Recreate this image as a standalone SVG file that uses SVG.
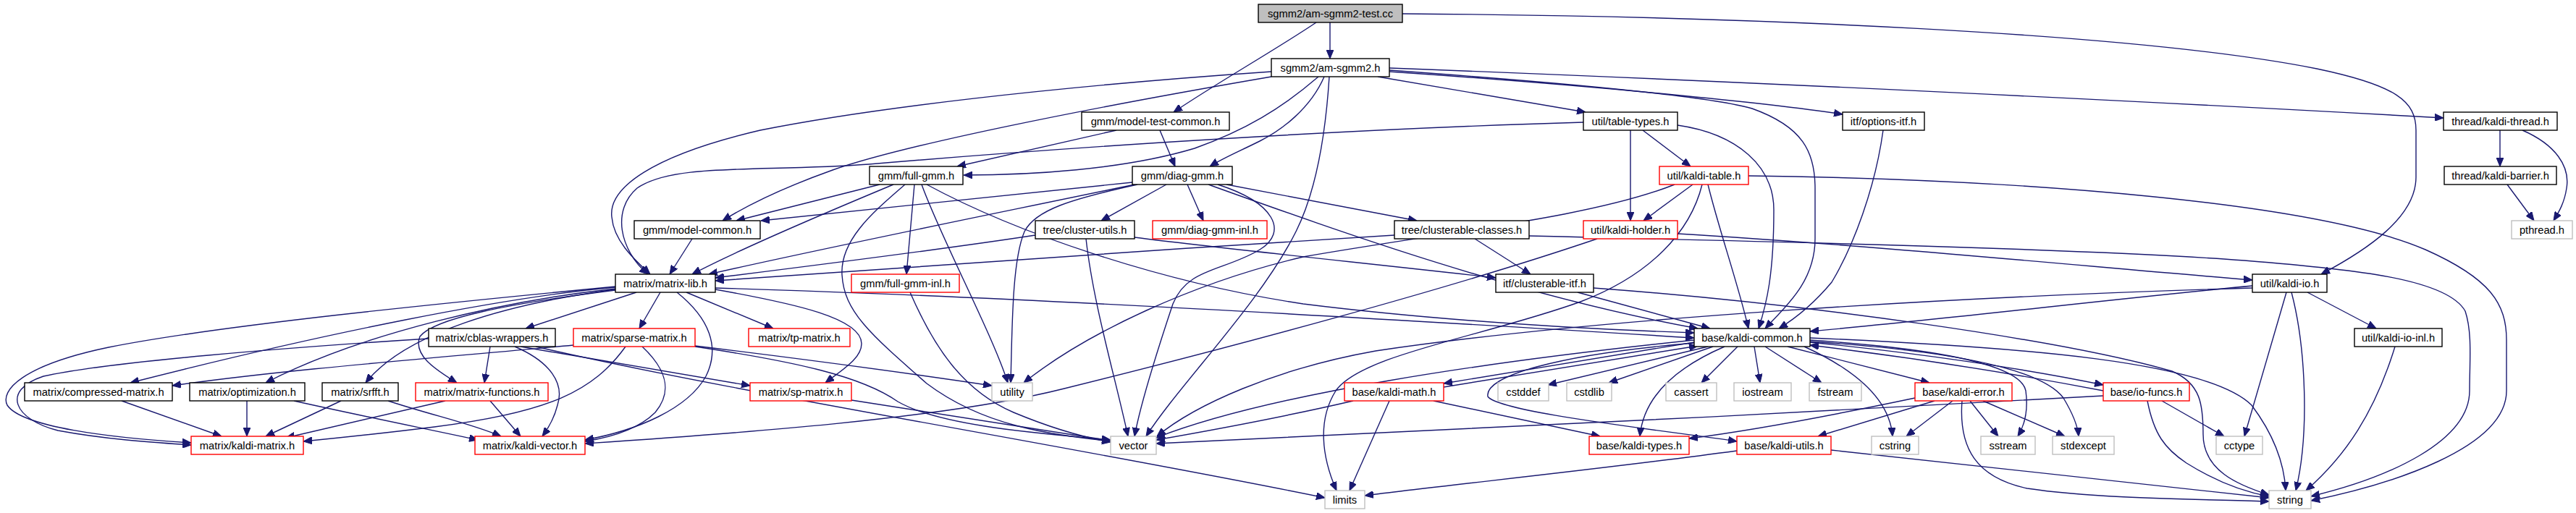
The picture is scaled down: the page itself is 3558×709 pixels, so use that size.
<svg xmlns="http://www.w3.org/2000/svg" width="3558" height="709" viewBox="0 0 3558 709">
<style>
.e{fill:none;stroke:#191970;stroke-width:1.4;marker-end:url(#a)}
.nb{fill:#fff;stroke:#000;stroke-width:1.4}
.nt{fill:#bfbfbf;stroke:#000;stroke-width:1.4}
.nr{fill:#fff;stroke:#ff0000;stroke-width:1.4}
.ng{fill:#fff;stroke:#bfbfbf;stroke-width:1.4}
text{font-family:"Liberation Sans",Arial,Helvetica,sans-serif;font-size:14.7px;text-anchor:middle;fill:#000}
</style>
<defs>
<marker id="a" markerWidth="12" markerHeight="10" refX="12" refY="5" orient="auto" markerUnits="userSpaceOnUse"><path d="M0,0 L12,5 L0,10 z" fill="#191970" stroke="#191970" stroke-width="1"/></marker>
</defs>
<rect width="3558" height="709" fill="#fff"/>
<g id="edges">
<path class="e" d="M1837,31 L1837,81"/>
<path class="e" d="M1818,31 C1760,70 1680,115 1621,155"/>
<path class="e" d="M1937,19 C2400,22 2950,45 3200,95 C3310,118 3337,140 3337,180 L3337,245 C3337,300 3270,345 3206,379"/>
<path class="e" d="M1836,106 C1830,200 1815,270 1790,320 C1740,420 1630,530 1583,603"/>
<path class="e" d="M1919,97 C2100,110 2350,130 2420,150 C2490,175 2507,210 2507,260 L2507,330 C2507,390 2465,425 2438,454"/>
<path class="e" d="M1919,94 C2400,112 3000,142 3375,163"/>
<path class="e" d="M1919,99 C2200,118 2450,143 2545,158"/>
<path class="e" d="M1903,106 L2190,155"/>
<path class="e" d="M1756,99 C1450,120 1200,150 1050,180 C900,215 840,260 845,300 C848,335 880,362 898,379"/>
<path class="e" d="M2187,169 C1800,180 1400,210 1200,227 C1050,238 930,225 880,260 C845,290 855,345 895,379"/>
<path class="e" d="M1756,106 C1500,150 1250,200 1150,235 C1080,260 1030,285 998,305"/>
<path class="e" d="M1821,106 C1770,150 1720,180 1650,205 C1550,235 1420,242 1331,242"/>
<path class="e" d="M1829,106 C1810,150 1770,180 1740,195 C1710,210 1690,218 1671,230"/>
<path class="e" d="M1542,180 L1322,230"/>
<path class="e" d="M1602,180 L1623,230"/>
<path class="e" d="M1215,255 L1017,305"/>
<path class="e" d="M1564,252 L1051,305"/>
<path class="e" d="M1234,255 C1150,290 1020,345 956,379"/>
<path class="e" d="M1567,255 C1400,290 1150,340 979,379"/>
<path class="e" d="M1430,325 C1300,345 1100,370 988,384"/>
<path class="e" d="M1926,325 C1600,345 1200,372 988,388"/>
<path class="e" d="M956,330 L925,379"/>
<path class="e" d="M1263,255 L1252,379"/>
<path class="e" d="M1250,255 C1210,290 1160,330 1163,380 C1166,430 1200,460 1280,530 C1360,590 1450,600 1534,610"/>
<path class="e" d="M1273,255 C1300,330 1370,460 1392,529"/>
<path class="e" d="M1280,255 C1400,320 1600,390 1800,420 C2000,445 2200,455 2340,460"/>
<path class="e" d="M1257,404 C1290,480 1330,540 1400,570 C1460,595 1500,605 1534,611"/>
<path class="e" d="M1611,255 L1521,305"/>
<path class="e" d="M1640,255 L1662,305"/>
<path class="e" d="M1571,255 C1480,275 1430,290 1415,320 C1398,360 1398,450 1396,529"/>
<path class="e" d="M1669,255 C1850,320 2100,410 2345,454"/>
<path class="e" d="M1682,255 C1760,280 1780,320 1740,345 C1690,375 1640,370 1620,420 C1600,480 1575,560 1567,603"/>
<path class="e" d="M1694,255 L1957,305"/>
<path class="e" d="M1500,330 C1510,420 1540,520 1558,603"/>
<path class="e" d="M1567,328 C1700,345 1900,365 2066,384"/>
<path class="e" d="M2037,330 L2114,379"/>
<path class="e" d="M2112,326 C2500,335 2900,345 3100,360 C3250,372 3380,385 3405,430 C3415,460 3411,500 3411,540 C3411,610 3300,660 3192,686"/>
<path class="e" d="M2317,323 C2600,340 2900,370 3111,387"/>
<path class="e" d="M2206,330 C2000,400 1700,480 1470,537 C1300,580 1000,600 808,613"/>
<path class="e" d="M2252,180 L2252,305"/>
<path class="e" d="M2269,180 L2335,230"/>
<path class="e" d="M2317,173 C2400,185 2450,230 2450,290 C2450,380 2440,420 2429,454"/>
<path class="e" d="M2338,255 L2270,305"/>
<path class="e" d="M2313,255 C2200,300 2000,320 1800,355 C1650,390 1500,460 1414,529"/>
<path class="e" d="M2351,255 C2335,320 2280,380 2183,417 C2050,465 1880,490 1845,540 C1820,580 1825,630 1846,678"/>
<path class="e" d="M3111,398 C2700,410 2200,440 1900,485 C1760,510 1650,560 1598,603"/>
<path class="e" d="M2359,255 C2375,320 2400,390 2415,454"/>
<path class="e" d="M2415,243 C2800,248 3200,280 3350,345 C3440,385 3462,420 3462,470 L3462,540 C3462,620 3300,670 3192,692"/>
<path class="e" d="M2601,180 C2590,260 2560,340 2530,390 C2505,420 2480,440 2457,454"/>
<path class="e" d="M3453,180 L3453,230"/>
<path class="e" d="M3484,180 C3530,200 3550,230 3545,260 C3542,280 3535,292 3527,305"/>
<path class="e" d="M3463,255 L3500,305"/>
<path class="e" d="M2179,404 L2362,454"/>
<path class="e" d="M2201,398 C2500,420 2850,470 3000,513 C3040,530 3043,560 3043,600 C3043,650 3090,670 3134,684"/>
<path class="e" d="M3111,395 C2900,415 2700,440 2500,458"/>
<path class="e" d="M3158,404 L3100,603"/>
<path class="e" d="M3165,404 C3185,480 3190,600 3171,678"/>
<path class="e" d="M3187,404 L3282,454"/>
<path class="e" d="M3308,479 C3280,570 3240,630 3185,678"/>
<path class="e" d="M879,404 L726,454"/>
<path class="e" d="M912,404 L883,454"/>
<path class="e" d="M948,404 L1068,454"/>
<path class="e" d="M988,400 C1100,420 1190,440 1190,475 C1190,495 1165,510 1140,529"/>
<path class="e" d="M935,404 C980,440 995,480 975,520 C950,565 880,595 808,608"/>
<path class="e" d="M988,398 C1400,410 1900,440 2340,467"/>
<path class="e" d="M850,396 C600,420 300,450 150,480 C30,505 0,540 10,560 C30,590 150,605 264,612"/>
<path class="e" d="M850,397 C700,410 450,460 180,529"/>
<path class="e" d="M850,399 C700,415 500,460 367,529"/>
<path class="e" d="M850,400 C700,420 560,460 505,529"/>
<path class="e" d="M850,401 C700,420 600,440 580,465 C570,490 600,510 631,529"/>
<path class="e" d="M592,468 C400,480 150,500 60,520 C0,540 20,580 80,595 C150,608 220,612 264,615"/>
<path class="e" d="M677,479 L669,529"/>
<path class="e" d="M711,479 C760,500 780,530 770,560 C765,580 755,595 749,603"/>
<path class="e" d="M719,479 L1036,533"/>
<path class="e" d="M740,479 C1000,540 1500,620 1830,688"/>
<path class="e" d="M615,554 L395,605"/>
<path class="e" d="M677,554 L719,603"/>
<path class="e" d="M168,554 L306,603"/>
<path class="e" d="M341,554 L341,603"/>
<path class="e" d="M406,554 C500,575 600,595 660,608"/>
<path class="e" d="M471,554 L367,603"/>
<path class="e" d="M536,554 C600,575 650,585 692,603"/>
<path class="e" d="M792,477 C600,495 400,510 238,533"/>
<path class="e" d="M864,479 C820,540 760,570 600,590 C520,600 470,605 419,610"/>
<path class="e" d="M887,479 C920,510 930,540 905,570 C880,595 840,605 808,610"/>
<path class="e" d="M960,478 C1100,495 1250,515 1370,533"/>
<path class="e" d="M960,479 C1100,500 1190,520 1240,555 C1300,590 1450,600 1534,608"/>
<path class="e" d="M1176,553 L1534,609"/>
<path class="e" d="M2340,473 L1994,530"/>
<path class="e" d="M1994,535 L2345,478"/>
<path class="e" d="M2359,479 L2138,532"/>
<path class="e" d="M2366,479 L2222,529"/>
<path class="e" d="M2400,479 L2350,529"/>
<path class="e" d="M2423,479 L2431,529"/>
<path class="e" d="M2438,479 L2516,529"/>
<path class="e" d="M2469,479 L2665,529"/>
<path class="e" d="M2500,473 C2650,488 2800,510 2905,532"/>
<path class="e" d="M2905,540 C2800,520 2650,495 2500,477"/>
<path class="e" d="M2492,479 C2560,510 2610,550 2614,603"/>
<path class="e" d="M2500,470 C2650,480 2790,500 2798,540 C2802,570 2795,590 2787,603"/>
<path class="e" d="M2500,472 C2700,485 2820,510 2850,550 C2865,575 2870,590 2871,603"/>
<path class="e" d="M2500,467 C2800,480 3050,500 3110,560 C3140,600 3155,640 3157,678"/>
<path class="e" d="M2382,479 C2310,510 2270,550 2265,603"/>
<path class="e" d="M2340,474 C2150,490 2050,520 2055,548 C2070,570 2300,595 2399,610"/>
<path class="e" d="M2340,470 C2050,500 1750,545 1597,605"/>
<path class="e" d="M1869,554 C1800,570 1700,590 1597,608"/>
<path class="e" d="M1919,554 L1864,678"/>
<path class="e" d="M1980,554 L2210,603"/>
<path class="e" d="M2645,550 C2550,570 2420,595 2333,606"/>
<path class="e" d="M2672,554 L2511,603"/>
<path class="e" d="M2697,554 L2633,603"/>
<path class="e" d="M2721,554 L2760,603"/>
<path class="e" d="M2739,554 L2852,603"/>
<path class="e" d="M2710,554 C2705,620 2730,660 2800,675 C2900,690 3050,690 3134,693"/>
<path class="e" d="M2529,622 C2800,650 3000,675 3134,688"/>
<path class="e" d="M2399,623 C2200,650 2000,670 1885,685"/>
<path class="e" d="M2905,547 C2500,570 1900,600 1597,613"/>
<path class="e" d="M2986,554 L3072,603"/>
<path class="e" d="M2966,554 C2975,600 2990,620 3020,640 C3060,665 3100,680 3134,686"/>
</g>
<g id="n_test"><rect class="nt" x="1738" y="6" width="199" height="25"/><text x="1837.5" y="24">sgmm2/am-sgmm2-test.cc</text></g>
<g id="n_am"><rect class="nb" x="1756" y="81" width="163" height="25"/><text x="1837.5" y="99">sgmm2/am-sgmm2.h</text></g>
<g id="n_mtc"><rect class="nb" x="1494" y="155" width="204" height="25"/><text x="1596" y="173">gmm/model-test-common.h</text></g>
<g id="n_tt"><rect class="nb" x="2187" y="155" width="130" height="25"/><text x="2252" y="173">util/table-types.h</text></g>
<g id="n_oi"><rect class="nb" x="2545" y="155" width="113" height="25"/><text x="2601.5" y="173">itf/options-itf.h</text></g>
<g id="n_kt"><rect class="nb" x="3375" y="155" width="157" height="25"/><text x="3453.5" y="173">thread/kaldi-thread.h</text></g>
<g id="n_fg"><rect class="nb" x="1201" y="230" width="129" height="25"/><text x="1265.5" y="248">gmm/full-gmm.h</text></g>
<g id="n_dg"><rect class="nb" x="1564" y="230" width="138" height="25"/><text x="1633" y="248">gmm/diag-gmm.h</text></g>
<g id="n_ktab"><rect class="nr" x="2292" y="230" width="123" height="25"/><text x="2353.5" y="248">util/kaldi-table.h</text></g>
<g id="n_kb"><rect class="nb" x="3376" y="230" width="155" height="25"/><text x="3453.5" y="248">thread/kaldi-barrier.h</text></g>
<g id="n_mc"><rect class="nb" x="876" y="305" width="174" height="25"/><text x="963" y="323">gmm/model-common.h</text></g>
<g id="n_cu"><rect class="nb" x="1430" y="305" width="137" height="25"/><text x="1498.5" y="323">tree/cluster-utils.h</text></g>
<g id="n_dgi"><rect class="nr" x="1592" y="305" width="158" height="25"/><text x="1671" y="323">gmm/diag-gmm-inl.h</text></g>
<g id="n_cc"><rect class="nb" x="1926" y="305" width="186" height="25"/><text x="2019" y="323">tree/clusterable-classes.h</text></g>
<g id="n_kh"><rect class="nr" x="2187" y="305" width="130" height="25"/><text x="2252" y="323">util/kaldi-holder.h</text></g>
<g id="n_pt"><rect class="ng" x="3469" y="305" width="84" height="25"/><text x="3511" y="323">pthread.h</text></g>
<g id="n_ml"><rect class="nb" x="850" y="379" width="138" height="25"/><text x="919" y="397">matrix/matrix-lib.h</text></g>
<g id="n_fgi"><rect class="nr" x="1176" y="379" width="149" height="25"/><text x="1250.5" y="397">gmm/full-gmm-inl.h</text></g>
<g id="n_ci"><rect class="nb" x="2066" y="379" width="135" height="25"/><text x="2133.5" y="397">itf/clusterable-itf.h</text></g>
<g id="n_kio"><rect class="nb" x="3111" y="379" width="103" height="25"/><text x="3162.5" y="397">util/kaldi-io.h</text></g>
<g id="n_cb"><rect class="nb" x="592" y="454" width="175" height="25"/><text x="679.5" y="472">matrix/cblas-wrappers.h</text></g>
<g id="n_sm"><rect class="nr" x="792" y="454" width="168" height="25"/><text x="876" y="472">matrix/sparse-matrix.h</text></g>
<g id="n_tp"><rect class="nr" x="1034" y="454" width="140" height="25"/><text x="1104" y="472">matrix/tp-matrix.h</text></g>
<g id="n_kc"><rect class="nb" x="2340" y="454" width="160" height="25"/><text x="2420" y="472">base/kaldi-common.h</text></g>
<g id="n_kioi"><rect class="nb" x="3252" y="454" width="121" height="25"/><text x="3312.5" y="472">util/kaldi-io-inl.h</text></g>
<g id="n_cm"><rect class="nb" x="34" y="529" width="204" height="25"/><text x="136" y="547">matrix/compressed-matrix.h</text></g>
<g id="n_opt"><rect class="nb" x="262" y="529" width="159" height="25"/><text x="341.5" y="547">matrix/optimization.h</text></g>
<g id="n_srf"><rect class="nb" x="445" y="529" width="105" height="25"/><text x="497.5" y="547">matrix/srfft.h</text></g>
<g id="n_mf"><rect class="nr" x="574" y="529" width="183" height="25"/><text x="665.5" y="547">matrix/matrix-functions.h</text></g>
<g id="n_sp"><rect class="nr" x="1036" y="529" width="140" height="25"/><text x="1106" y="547">matrix/sp-matrix.h</text></g>
<g id="n_util"><rect class="ng" x="1370" y="529" width="56" height="25"/><text x="1398" y="547">utility</text></g>
<g id="n_km"><rect class="nr" x="1857" y="529" width="137" height="25"/><text x="1925.5" y="547">base/kaldi-math.h</text></g>
<g id="n_cstddef"><rect class="ng" x="2069" y="529" width="70" height="25"/><text x="2104" y="547">cstddef</text></g>
<g id="n_cstdlib"><rect class="ng" x="2164" y="529" width="62" height="25"/><text x="2195" y="547">cstdlib</text></g>
<g id="n_cassert"><rect class="ng" x="2301" y="529" width="70" height="25"/><text x="2336" y="547">cassert</text></g>
<g id="n_iostream"><rect class="ng" x="2395" y="529" width="79" height="25"/><text x="2434.5" y="547">iostream</text></g>
<g id="n_fstream"><rect class="ng" x="2499" y="529" width="72" height="25"/><text x="2535" y="547">fstream</text></g>
<g id="n_ke"><rect class="nr" x="2645" y="529" width="134" height="25"/><text x="2712" y="547">base/kaldi-error.h</text></g>
<g id="n_iof"><rect class="nr" x="2905" y="529" width="119" height="25"/><text x="2964.5" y="547">base/io-funcs.h</text></g>
<g id="n_kmat"><rect class="nr" x="264" y="603" width="155" height="25"/><text x="341.5" y="621">matrix/kaldi-matrix.h</text></g>
<g id="n_kv"><rect class="nr" x="656" y="603" width="152" height="25"/><text x="732" y="621">matrix/kaldi-vector.h</text></g>
<g id="n_vec"><rect class="ng" x="1534" y="603" width="63" height="25"/><text x="1565.5" y="621">vector</text></g>
<g id="n_ktyp"><rect class="nr" x="2195" y="603" width="138" height="25"/><text x="2264" y="621">base/kaldi-types.h</text></g>
<g id="n_ku"><rect class="nr" x="2399" y="603" width="130" height="25"/><text x="2464" y="621">base/kaldi-utils.h</text></g>
<g id="n_cstring"><rect class="ng" x="2585" y="603" width="65" height="25"/><text x="2617.5" y="621">cstring</text></g>
<g id="n_sstream"><rect class="ng" x="2736" y="603" width="75" height="25"/><text x="2773.5" y="621">sstream</text></g>
<g id="n_stdexcept"><rect class="ng" x="2835" y="603" width="85" height="25"/><text x="2877.5" y="621">stdexcept</text></g>
<g id="n_cctype"><rect class="ng" x="3061" y="603" width="64" height="25"/><text x="3093" y="621">cctype</text></g>
<g id="n_limits"><rect class="ng" x="1830" y="678" width="55" height="25"/><text x="1857.5" y="696">limits</text></g>
<g id="n_string"><rect class="ng" x="3134" y="678" width="58" height="25"/><text x="3163" y="696">string</text></g>
</svg>
